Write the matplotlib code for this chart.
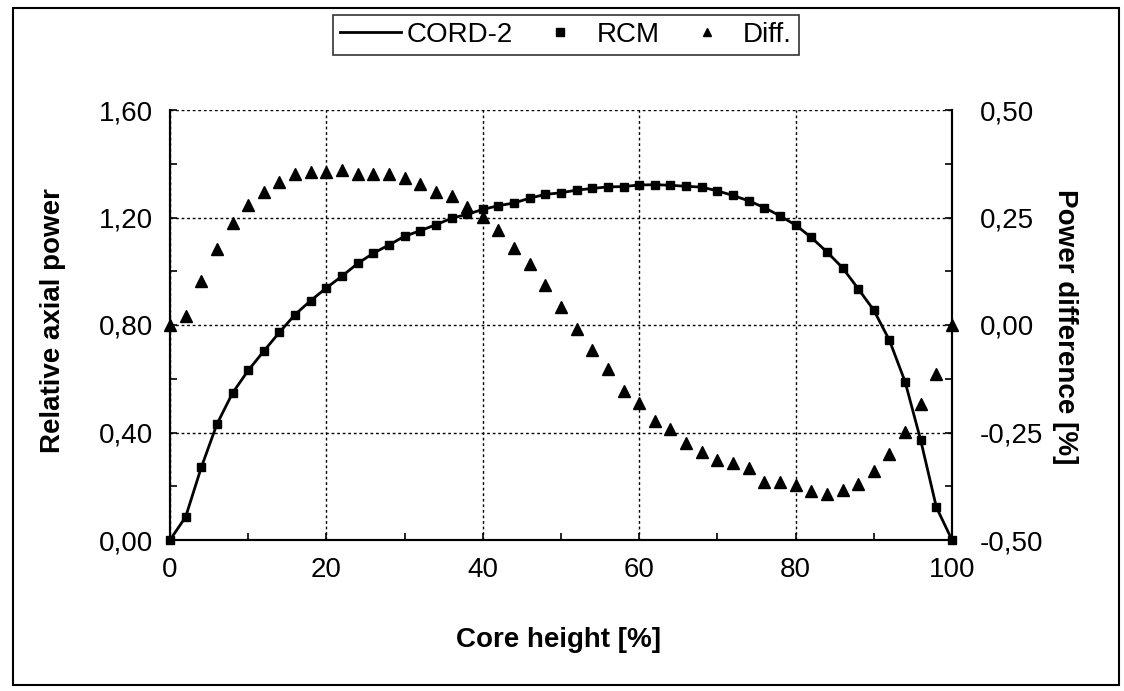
import matplotlib
matplotlib.use("Agg")
import matplotlib.pyplot as plt
from matplotlib.lines import Line2D
from matplotlib.patches import Rectangle

plt.rcParams['font.family'] = ['Liberation Sans', 'DejaVu Sans']

# core height [%]
height = [0, 2, 4, 6, 8, 10, 12, 14, 16, 18, 20, 22, 24, 26, 28, 30, 32, 34, 36, 38,
          40, 42, 44, 46, 48, 50, 52, 54, 56, 58, 60, 62, 64, 66, 68, 70, 72, 74, 76, 78,
          80, 82, 84, 86, 88, 90, 92, 94, 96, 98, 100]

# relative axial power (RCM points, CORD-2 curve)
rcm = [0.000, 0.086, 0.270, 0.431, 0.547, 0.631, 0.703, 0.773, 0.839, 0.891,
       0.938, 0.982, 1.029, 1.067, 1.098, 1.130, 1.151, 1.173, 1.197, 1.212,
       1.230, 1.244, 1.254, 1.272, 1.286, 1.292, 1.302, 1.308, 1.314, 1.315,
       1.321, 1.322, 1.320, 1.316, 1.313, 1.299, 1.282, 1.262, 1.237, 1.206,
       1.172, 1.126, 1.072, 1.013, 0.935, 0.855, 0.743, 0.589, 0.371, 0.122,
       0.000]
cord2 = rcm

# power difference [%]
diff = [0.000, 0.022, 0.103, 0.177, 0.238, 0.279, 0.310, 0.333, 0.351, 0.355,
        0.356, 0.361, 0.352, 0.351, 0.351, 0.343, 0.327, 0.309, 0.301, 0.275,
        0.251, 0.222, 0.180, 0.142, 0.092, 0.041, -0.010, -0.059, -0.102, -0.153,
        -0.182, -0.224, -0.242, -0.275, -0.295, -0.315, -0.322, -0.332, -0.365, -0.365,
        -0.373, -0.385, -0.392, -0.384, -0.370, -0.340, -0.299, -0.248, -0.183, -0.113,
        0.000]

x_ticks = [0, 20, 40, 60, 80, 100]
left_ticks = [0.0, 0.4, 0.8, 1.2, 1.6]
left_labels = ['0,00', '0,40', '0,80', '1,20', '1,60']
right_ticks = [-0.5, -0.25, 0.0, 0.25, 0.5]
right_labels = ['-0,50', '-0,25', '0,00', '0,25', '0,50']

W, H = 1124, 691
fig = plt.figure(figsize=(W / 100, H / 100), dpi=100)
ax = fig.add_axes([170 / W, 1 - 540 / H, (952 - 170) / W, (540 - 110) / H])
ax2 = ax.twinx()

ax.plot(height, cord2, color='black', lw=2, zorder=3, clip_on=False)
ax.plot(height, rcm, ls='none', marker='s', ms=6, color='black', zorder=4, clip_on=False)
ax2.plot(height, diff, ls='none', marker='^', ms=8, color='black', zorder=4, clip_on=False)

ax.set_xlim(0, 100)
ax.set_ylim(0, 1.6)
ax2.set_ylim(-0.5, 0.5)

ax.set_xticks(x_ticks)
ax.set_xticks(range(10, 100, 20), minor=True)
ax.set_yticks(left_ticks)
ax.set_yticklabels(left_labels)
ax.set_yticks([0.2, 0.6, 1.0, 1.4], minor=True)
ax2.set_yticks(right_ticks)
ax2.set_yticklabels(right_labels)
ax2.set_yticks([-0.375, -0.125, 0.125, 0.375], minor=True)

ax.grid(True, which='major', color='black', lw=1, ls=(0, (2, 2)))
ax.set_axisbelow(True)

for a in (ax, ax2):
    a.spines['top'].set_visible(False)
    for s in ('left', 'right', 'bottom'):
        a.spines[s].set_linewidth(1.5)
    a.tick_params(which='both', direction='in', length=5, width=1.2, labelsize=20)

ax.tick_params(axis='x', pad=12)
ax.tick_params(axis='y', pad=12)
ax2.tick_params(axis='y', pad=20)

ax.set_xlabel('Core height [%]', fontsize=20, fontweight='bold', va='center')
ax.xaxis.set_label_coords(0.497, -0.233)
ax.set_ylabel('Relative axial power', fontsize=20, fontweight='bold',
              va='center', ha='center', rotation=90, rotation_mode='default')
ax.yaxis.set_label_coords(-0.150, 0.51)
ax2.set_ylabel('Power difference [%]', fontsize=20, fontweight='bold',
               va='center', ha='center', rotation=270, rotation_mode='default')
ax2.yaxis.set_label_coords(1.1445, 0.495)

handles = [Line2D([], [], color='black', lw=2),
           Line2D([], [], ls='none', marker='s', ms=6, color='black'),
           Line2D([], [], ls='none', marker='^', ms=6, color='black')]
leg = fig.legend(handles, ['CORD-2', 'RCM', 'Diff.'], loc='center',
                 bbox_to_anchor=(566 / W, 1 - 35 / H), ncol=3, fontsize=20,
                 frameon=True, fancybox=False, edgecolor='black',
                 handlelength=2.2, handletextpad=0.2, columnspacing=0.6,
                 borderpad=0.25, borderaxespad=0)
leg.get_frame().set_linewidth(1.2)

fig.patches.append(Rectangle((13 / W, 6 / H), (1119 - 13) / W, (685 - 8) / H,
                             transform=fig.transFigure, fill=False,
                             edgecolor='black', lw=1.5))

fig.savefig('out.png', dpi=100)
